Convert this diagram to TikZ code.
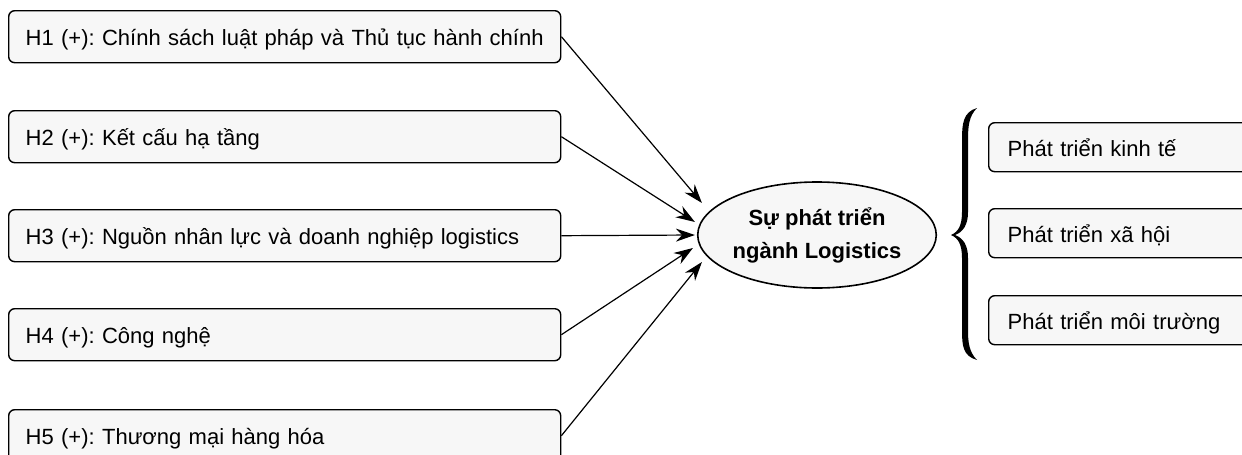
\documentclass[tikz,border=0pt]{standalone}
\usepackage{fontspec}
\setmainfont{Liberation Sans}
\usetikzlibrary{arrows.meta,shapes.geometric,calc}
\begin{document}
\frenchspacing
\begin{tikzpicture}[x=1pt,y=-1pt,
  hbox/.style={draw=black,line width=1.4pt,rounded corners=6pt,fill=black!3,
    text width=518pt,inner xsep=17pt,inner ysep=0pt,minimum height=52pt,
    text height=18pt,text depth=0pt,
    align=left,anchor=north west,font=\fontsize{22}{26}\selectfont},
  obox/.style={draw=black,line width=1.4pt,rounded corners=6pt,fill=black!3,
    text width=240pt,inner xsep=19pt,inner ysep=0pt,minimum height=49pt,
    text height=18pt,text depth=0pt,
    align=left,anchor=north west,font=\fontsize{22}{26}\selectfont},
  central/.style={ellipse,draw=black,line width=1.6pt,fill=black!3,
    minimum width=231pt,minimum height=106pt,inner sep=0pt,align=center,
    font=\fontsize{22}{33}\selectfont\bfseries},
  link/.style={line width=1.2pt,-{Stealth[length=19pt,width=13pt]}}
]
\useasboundingbox (0,0) rectangle (1242,455);
\clip (0,0) rectangle (1242,455);
\fill[white] (0,0) rectangle (1242,455);

\node[hbox] (h1) at (8,10)  {H1 (+): Chính sách luật pháp và Thủ tục hành chính};
\node[hbox] (h2) at (8,110) {H2 (+): Kết cấu hạ tầng};
\node[hbox] (h3) at (8,209) {H3 (+): Nguồn nhân lực và doanh nghiệp logistics};
\node[hbox] (h4) at (8,308) {H4 (+): Công nghệ};
\node[hbox] (h5) at (8,409) {H5 (+): Thương mại hàng hóa};

\node[central] (c) at (817,235) {Sự phát triển\\ngành Logistics};

\coordinate (t1) at ($(c.west)+(5,-32)$);
\coordinate (t2) at ($(c.west)+(-2,-13)$);
\coordinate (t3) at ($(c.west)+(-2,0)$);
\coordinate (t4) at ($(c.west)+(-4,13)$);
\coordinate (t5) at ($(c.west)+(5,27)$);

\draw[link] (h1.east) -- (t1);
\draw[link] (h2.east) -- (t2);
\draw[link] (h3.east) -- (t3);
\draw[link] (h4.east) -- (t4);
\draw[link] (h5.east) -- (t5);

\node[obox] (o1) at (988,122) {Phát triển kinh tế};
\node[obox] (o2) at (988,208) {Phát triển xã hội};
\node[obox] (o3) at (988,295) {Phát triển môi trường};

\fill[black] (977,108) .. controls (963,112) and (962,124) .. (962,140)
  -- (962,212) .. controls (962,226) and (958,232) .. (951,235)
  .. controls (958,238) and (962,244) .. (962,258)
  -- (962,330) .. controls (962,346) and (963,356) .. (977,360)
  .. controls (969,352) and (968,342) .. (968,330)
  -- (968,258) .. controls (968,245) and (963,238) .. (955,235)
  .. controls (963,232) and (968,225) .. (968,212)
  -- (968,140) .. controls (968,126) and (969,116) .. (977,108) -- cycle;
\end{tikzpicture}
\end{document}
